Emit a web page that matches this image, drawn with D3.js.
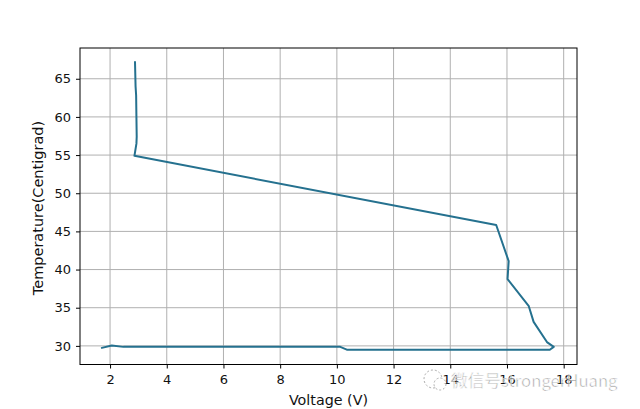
<!DOCTYPE html>
<html><head><meta charset="utf-8">
<script src="https://cdn.jsdelivr.net/npm/d3@7"></script>
<style>body{margin:0;background:#fff}svg{display:block}</style>
</head><body>
<script>
// Data
const voltage = [2.88, 2.90, 2.92, 2.93, 2.94, 2.93, 2.86, 15.62, 16.06, 16.02, 16.77, 16.94, 17.41, 17.65, 17.51, 10.35, 10.12, 2.47, 2.06, 1.71];
const temperature = [67.2, 64.0, 62.8, 60.0, 57.4, 56.5, 54.9, 45.84, 41.1, 38.75, 35.2, 33.15, 30.5, 29.87, 29.5, 29.5, 29.87, 29.87, 30.05, 29.74];
const xTicks = [2, 4, 6, 8, 10, 12, 14, 16, 18];
const yTicks = [30, 35, 40, 45, 50, 55, 60, 65];
const xLabel = "Voltage (V)";
const yLabel = "Temperature(Centigrad)";
const watermark = "微信号strongerHuang";

const W = 640, H = 409;
const L = 80, R = 577, T = 48, B = 364.5;
const svg = d3.select("body").append("svg").attr("width", W).attr("height", H)
  .style("font-family", "DejaVu Sans, sans-serif");

const x = d3.scaleLinear().domain([0.94, 18.47]).range([L, R]);
const y = d3.scaleLinear().domain([27.56, 69.03]).range([B, T]);

// grid
const g = svg.append("g");
g.selectAll(".gx").data(xTicks).join("line")
  .attr("x1", d => x(d)).attr("x2", d => x(d)).attr("y1", T).attr("y2", B)
  .attr("stroke", "#b0b0b0").attr("stroke-width", 1);
g.selectAll(".gy").data(yTicks).join("line")
  .attr("y1", d => y(d)).attr("y2", d => y(d)).attr("x1", L).attr("x2", R)
  .attr("stroke", "#b0b0b0").attr("stroke-width", 1);

// line
const line = d3.line().x((d, i) => x(voltage[i])).y((d, i) => y(temperature[i]));
svg.append("path").datum(voltage).attr("d", line)
  .attr("fill", "none").attr("stroke", "#25718f").attr("stroke-width", 2)
  .attr("stroke-linejoin", "round").attr("stroke-linecap", "round");

// axes
const xAxis = d3.axisBottom(x).tickValues(xTicks).tickSize(4).tickPadding(6).tickFormat(d3.format("d"));
const yAxis = d3.axisLeft(y).tickValues(yTicks).tickSize(4).tickPadding(5).tickFormat(d3.format("d"));
const gx = svg.append("g").attr("transform", `translate(0,${B})`).call(xAxis);
const gy = svg.append("g").attr("transform", `translate(${L},0)`).call(yAxis);
[gx, gy].forEach(a => {
  a.select(".domain").remove();
  a.selectAll("text").attr("font-size", 13).attr("fill", "#111").style("font-family", "DejaVu Sans, sans-serif");
  a.selectAll("line").attr("stroke", "#000");
});
// frame
svg.append("rect").attr("x", L).attr("y", T).attr("width", R - L).attr("height", B - T)
  .attr("fill", "none").attr("stroke", "#000").attr("stroke-width", 1);

svg.append("text").attr("x", (L + R) / 2).attr("y", 405).attr("text-anchor", "middle")
  .attr("font-size", 14.3).attr("fill", "#111").text(xLabel);
svg.append("text").attr("transform", `translate(43,${208}) rotate(-90)`)
  .attr("text-anchor", "middle").attr("font-size", 14.5).attr("fill", "#111").text(yLabel);

// watermark
const wm = svg.append("g").attr("opacity", 0.8);
wm.append("circle").attr("cx", 433).attr("cy", 379).attr("r", 9)
  .attr("fill", "none").attr("stroke", "#999").attr("stroke-dasharray", "2,2");
wm.append("circle").attr("cx", 440).attr("cy", 384).attr("r", 6)
  .attr("fill", "#fff").attr("stroke", "#999").attr("stroke-dasharray", "2,2");
wm.append("text").attr("x", 451).attr("y", 387).attr("font-size", 16.7)
  .attr("fill", "#8a8a8a").attr("stroke", "#fff").attr("stroke-width", 0.6)
  .style("font-family", "Noto Sans CJK SC, sans-serif").text(watermark);
</script>
</body></html>
